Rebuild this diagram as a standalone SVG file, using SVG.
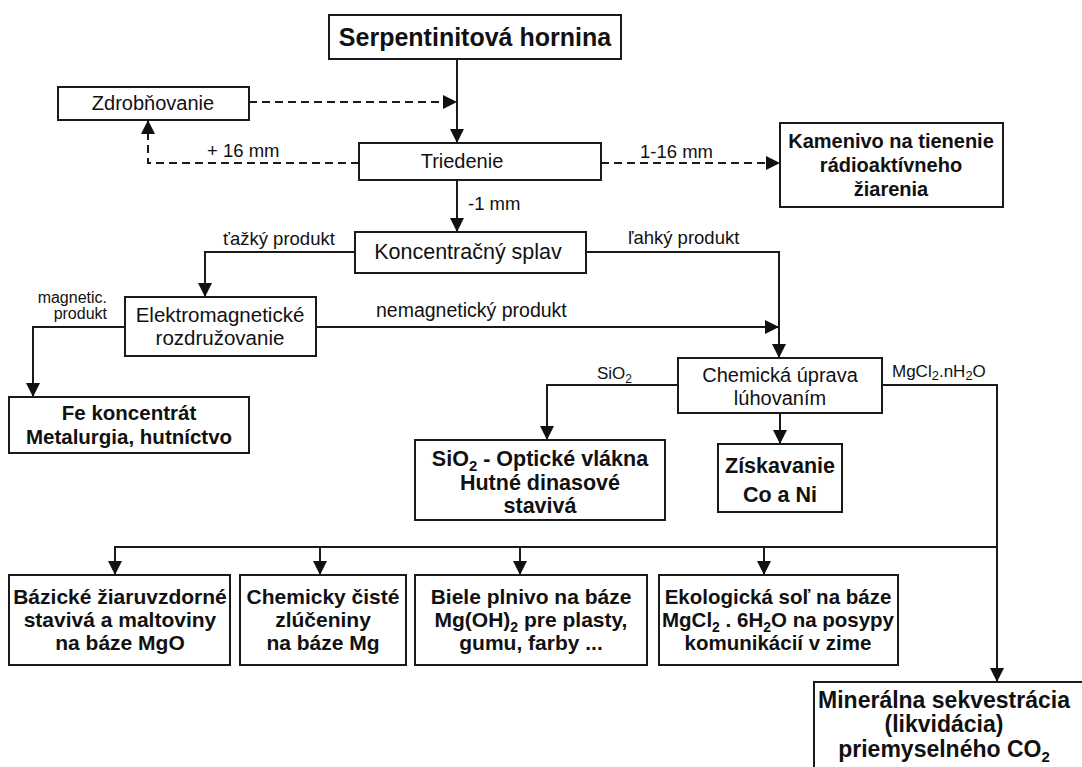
<svg xmlns="http://www.w3.org/2000/svg" width="1082" height="767" viewBox="0 0 1082 767">
<style>
.box{fill:#fff;stroke:#1a1a1a;stroke-width:2}
.t{font-family:"Liberation Sans",Arial,sans-serif;font-size:20px;fill:#111;text-anchor:middle}
.b{font-weight:bold}
.f21{font-size:21px}
.f215{font-size:21.5px}
.f205{font-size:20.5px}
.f23{font-size:23px}
.f25{font-size:25px}
.lbl{font-family:"Liberation Sans",Arial,sans-serif;font-size:18.5px;fill:#111}
.sm{font-family:"Liberation Sans",Arial,sans-serif;font-size:16px;fill:#111}
.ln{fill:none;stroke:#1a1a1a;stroke-width:2}
.ds{stroke-dasharray:8,5}
</style>
<defs>
<marker id="ah" markerUnits="userSpaceOnUse" markerWidth="14" markerHeight="14" refX="14" refY="7" orient="auto">
<path d="M0,0 L14,7 L0,14 z" fill="#111"/>
</marker>
</defs>
<rect width="1082" height="767" fill="#fff"/>

<g id="connectors">
<line class="ln" x1="457" y1="59" x2="457" y2="143" marker-end="url(#ah)"/>
<line class="ln ds" x1="249" y1="102" x2="457" y2="102" marker-end="url(#ah)"/>
<polyline class="ln ds" points="359,163 148,163 148,120" marker-end="url(#ah)"/>
<line class="ln ds" x1="601" y1="163" x2="780" y2="163" marker-end="url(#ah)"/>
<line class="ln" x1="457" y1="180" x2="457" y2="232" marker-end="url(#ah)"/>
<polyline class="ln" points="355,252 205,252 205,297" marker-end="url(#ah)"/>
<polyline class="ln" points="586,252 779,252 779,358" marker-end="url(#ah)"/>
<polyline class="ln" points="125,327 33,327 33,397" marker-end="url(#ah)"/>
<line class="ln" x1="316" y1="327" x2="779" y2="327" marker-end="url(#ah)"/>
<polyline class="ln" points="678,385 547,385 547,440" marker-end="url(#ah)"/>
<line class="ln" x1="780" y1="413" x2="780" y2="444" marker-end="url(#ah)"/>
<polyline class="ln" points="882,385 997,385 997,682" marker-end="url(#ah)"/>
<line class="ln" x1="115" y1="547" x2="997" y2="547"/>
<line class="ln" x1="115" y1="546" x2="115" y2="575" marker-end="url(#ah)"/>
<line class="ln" x1="320" y1="546" x2="320" y2="575" marker-end="url(#ah)"/>
<line class="ln" x1="520" y1="546" x2="520" y2="575" marker-end="url(#ah)"/>
<line class="ln" x1="764" y1="546" x2="764" y2="575" marker-end="url(#ah)"/>
<text class="lbl" x="207" y="157">+ 16 mm</text>
<text class="lbl" x="640" y="158">1-16 mm</text>
<text class="lbl" x="468" y="210">-1 mm</text>
<text class="lbl" x="223" y="245">ťažký produkt</text>
<text class="lbl" x="628" y="244">ľahký produkt</text>
<text class="sm" x="107" y="303" text-anchor="end">magnetic.</text>
<text class="sm" x="107" y="319" text-anchor="end">produkt</text>
<text class="lbl" x="376" y="317" style="font-size:19.5px">nemagnetický produkt</text>
<text class="sm" x="597" y="379" style="font-size:17px">SiO<tspan font-size="12" dy="4">2</tspan></text>
<text class="sm" x="892" y="377" style="font-size:17px">MgCl<tspan font-size="13" dy="3">2</tspan><tspan dy="-3">.nH</tspan><tspan font-size="13" dy="3">2</tspan><tspan dy="-3">O</tspan></text>
</g>

<g id="serpentinit">
<rect class="box" x="329" y="15" width="292" height="44"/>
<text class="t b f25" x="475" y="46">Serpentinitová hornina</text>
</g>
<g id="zdrobnovanie">
<rect class="box" x="58" y="87" width="191" height="33"/>
<text class="t" x="153" y="110">Zdrobňovanie</text>
</g>
<g id="triedenie">
<rect class="box" x="359" y="143" width="242" height="37"/>
<text class="t" x="462" y="168">Triedenie</text>
</g>
<g id="kamenivo">
<rect class="box" x="780" y="123" width="223" height="84"/>
<text class="t b" x="891" y="148">Kamenivo na tienenie</text>
<text class="t b" x="891" y="172">rádioaktívneho</text>
<text class="t b" x="891" y="196">žiarenia</text>
</g>
<g id="koncentracny">
<rect class="box" x="355" y="232" width="231" height="41"/>
<text class="t f215" x="468" y="259">Koncentračný splav</text>
</g>
<g id="elektromagneticke">
<rect class="box" x="125" y="297" width="191" height="59"/>
<text class="t f205" x="220" y="322">Elektromagnetické</text>
<text class="t f205" x="220" y="345">rozdružovanie</text>
</g>
<g id="fe">
<rect class="box" x="9" y="397" width="240" height="56"/>
<text class="t b f205" x="129" y="420">Fe koncentrát</text>
<text class="t b f205" x="129" y="444">Metalurgia, hutníctvo</text>
</g>
<g id="chemicka">
<rect class="box" x="678" y="358" width="204" height="55"/>
<text class="t" x="780" y="382">Chemická úprava</text>
<text class="t" x="780" y="405">lúhovaním</text>
</g>
<g id="sio2">
<rect class="box" x="415" y="440" width="250" height="80"/>
<text class="t b f215" x="540" y="466">SiO<tspan font-size="15" dy="5">2</tspan><tspan dy="-5"> - Optické vlákna</tspan></text>
<text class="t b f215" x="540" y="490">Hutné dinasové</text>
<text class="t b f215" x="540" y="513">stavivá</text>
</g>
<g id="ziskavanie">
<rect class="box" x="718" y="444" width="124" height="68"/>
<text class="t b f215" x="780" y="473">Získavanie</text>
<text class="t b f215" x="780" y="502">Co a Ni</text>
</g>
<g id="bazicke">
<rect class="box" x="9" y="575" width="221" height="90"/>
<text class="t b f21" x="120" y="604">Bázické žiaruvzdorné</text>
<text class="t b f21" x="120" y="627">stavivá a maltoviny</text>
<text class="t b f21" x="120" y="650">na báze MgO</text>
</g>
<g id="chemicky">
<rect class="box" x="240" y="575" width="166" height="90"/>
<text class="t b f21" x="323" y="604">Chemicky čisté</text>
<text class="t b f21" x="323" y="627">zlúčeniny</text>
<text class="t b f21" x="323" y="650">na báze Mg</text>
</g>
<g id="biele">
<rect class="box" x="415" y="575" width="232" height="90"/>
<text class="t b f21" x="531" y="604">Biele plnivo na báze</text>
<text class="t b f21" x="531" y="627">Mg(OH)<tspan font-size="14" dy="5">2</tspan><tspan dy="-5"> pre plasty,</tspan></text>
<text class="t b f21" x="531" y="650">gumu, farby ...</text>
</g>
<g id="ekologicka">
<rect class="box" x="659" y="575" width="239" height="90"/>
<text class="t b f205" x="778" y="604">Ekologická soľ na báze</text>
<text class="t b f205" x="778" y="627">MgCl<tspan font-size="14" dy="5">2</tspan><tspan dy="-5"> . 6H</tspan><tspan font-size="14" dy="5">2</tspan><tspan dy="-5">O na posypy</tspan></text>
<text class="t b f205" x="778" y="650">komunikácií v zime</text>
</g>
<g id="mineralna">
<rect class="box" x="814" y="682" width="280" height="100"/>
<text class="t b f23" x="944" y="708">Minerálna sekvestrácia</text>
<text class="t b f23" x="944" y="732">(likvidácia)</text>
<text class="t b f23" x="944" y="757">priemyselného CO<tspan font-size="15" dy="5">2</tspan></text>
</g>
</svg>
